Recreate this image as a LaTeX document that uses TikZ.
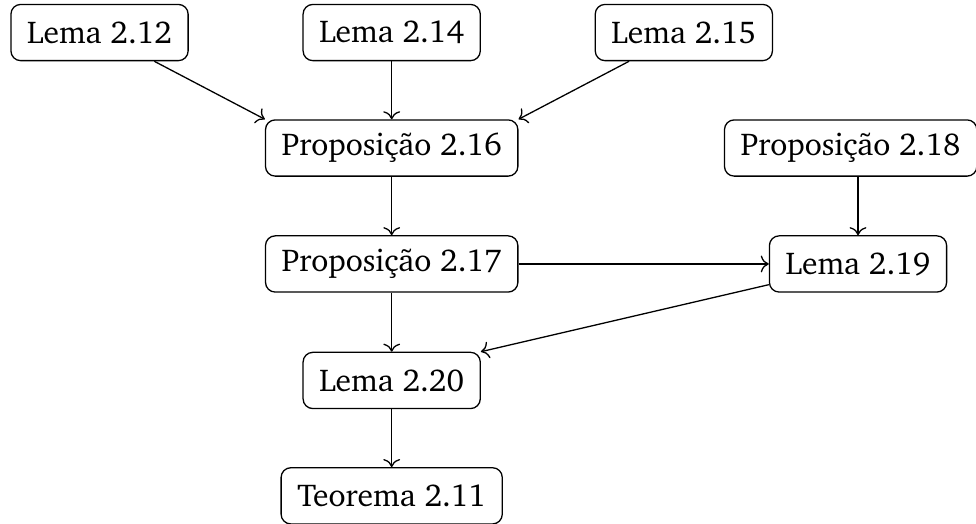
\documentclass[tikz,border=0pt]{standalone}
\usepackage[T1]{fontenc}
\usepackage{charter}
\usetikzlibrary{arrows.meta,positioning}

\begin{document}
\begin{tikzpicture}[font=\fontsize{9.75pt}{12pt}\selectfont,
  b/.style={draw,rounded corners=3pt,minimum height=6.1mm,inner xsep=5pt,align=center}]
\useasboundingbox (0,0) rectangle (10.59,-5.685);
\node[b] (l212) at (1.08,-0.353) {Lema 2.12};
\node[b] (l214) at (4.25,-0.353) {Lema 2.14};
\node[b] (l215) at (7.42,-0.353) {Lema 2.15};
\node[b] (p216) at (4.25,-1.606) {Proposi\c{c}\~ao 2.16};
\node[b] (p218) at (9.23,-1.606) {Proposi\c{c}\~ao 2.18};
\node[b] (p217) at (4.25,-2.864) {Proposi\c{c}\~ao 2.17};
\node[b] (l219) at (9.31,-2.864) {Lema 2.19};
\node[b] (l220) at (4.25,-4.128) {Lema 2.20};
\node[b] (t211) at (4.25,-5.38) {Teorema 2.11};
\draw[->] (l212) -- (p216.north west);
\draw[->] (l214) -- (p216);
\draw[->] (l215) -- (p216.north east);
\draw[->] (p216) -- (p217);
\draw[->] (p218.south -| l219) -- (l219);
\draw[->] (p217) -- (l219);
\draw[->] (p217) -- (l220);
\draw[->] (l219) -- (l220.north east);
\draw[->] (l220) -- (t211);
\end{tikzpicture}
\end{document}
